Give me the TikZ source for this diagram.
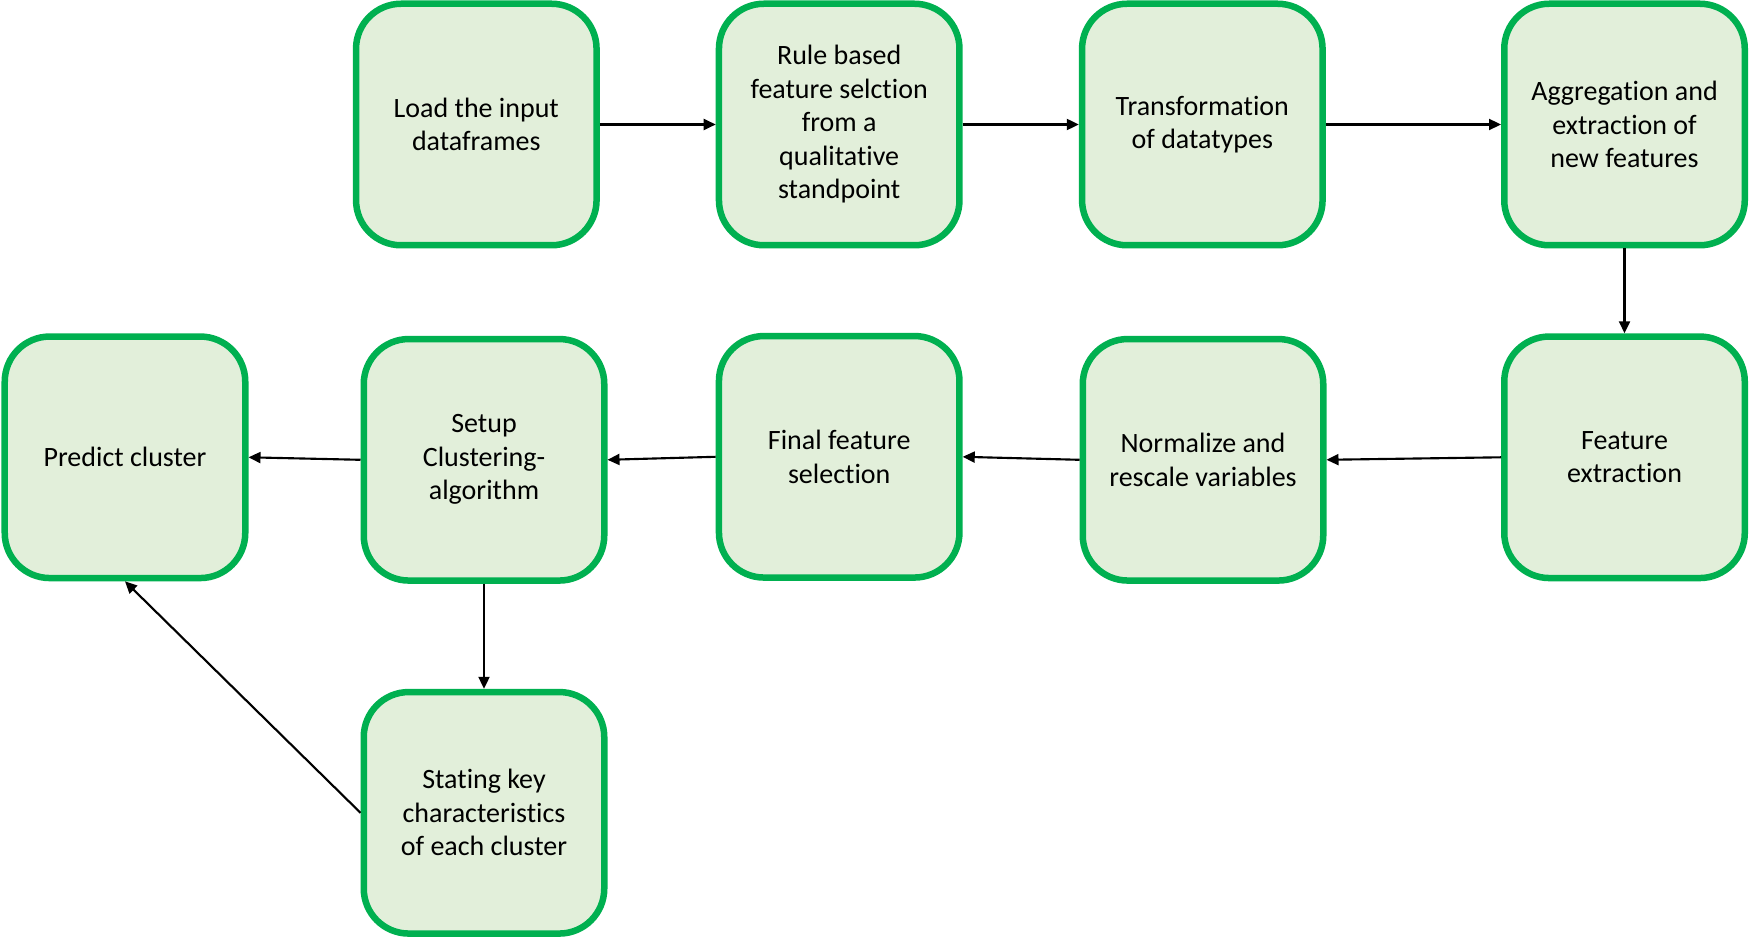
\documentclass[tikz,border=0pt]{standalone}
\usepackage{fontspec}
\setmainfont{Carlito}[Ligatures=NoCommon]
\usetikzlibrary{arrows.meta}
\definecolor{boxgreen}{RGB}{0,176,80}
\definecolor{boxfill}{RGB}{226,239,218}
\begin{document}
\begin{tikzpicture}[x=0.4pt,y=-0.4pt,
  stepbox/.style={draw=boxgreen, fill=boxfill, line width=2.6pt, rounded corners=18pt,
    minimum width=96.2pt, minimum height=96.6pt, inner sep=2pt, align=center,
    font=\fontsize{11.2}{13.4}\selectfont, text=black},
  flow/.style={draw=black, line width=0.85pt, -{Triangle[length=4.8pt,width=4.4pt]}}]
\useasboundingbox (0,0) rectangle (1750,938);
\node[stepbox] (load)  at (476.3,124.5) {Load the input\\dataframes};
\node[stepbox] (rule)  at (839.2,124.5) {Rule based\\feature selction\\from a\\qualitative\\standpoint};
\node[stepbox] (trans) at (1202.3,124.5) {Transformation\\of datatypes};
\node[stepbox] (aggr)  at (1624.5,124.5) {Aggregation and\\extraction of\\new features};
\node[stepbox] (fext)  at (1624.5,457.3) {Feature\\extraction};
\node[stepbox] (norm)  at (1203,459.8) {Normalize and\\rescale variables};
\node[stepbox] (final) at (839.2,456.8) {Final feature\\selection};
\node[stepbox] (setup) at (484,459.8) {Setup\\Clustering-\\algorithm};
\node[stepbox] (pred)  at (125,457.3) {Predict cluster};
\node[stepbox] (state) at (484,812.8) {Stating key\\characteristics\\of each cluster};
\draw[flow] (load.east) -- (rule.west);
\draw[flow] (rule.east) -- (trans.west);
\draw[flow] (trans.east) -- (aggr.west);
\draw[flow] (aggr.south) -- (fext.north);
\draw[flow] (fext.west) -- (norm.east);
\draw[flow] (norm.west) -- (final.east);
\draw[flow] (final.west) -- (setup.east);
\draw[flow] (setup.west) -- (pred.east);
\draw[flow] (setup.south) -- (state.north);
\draw[flow] (state.west) -- (pred.south);
\end{tikzpicture}
\end{document}
